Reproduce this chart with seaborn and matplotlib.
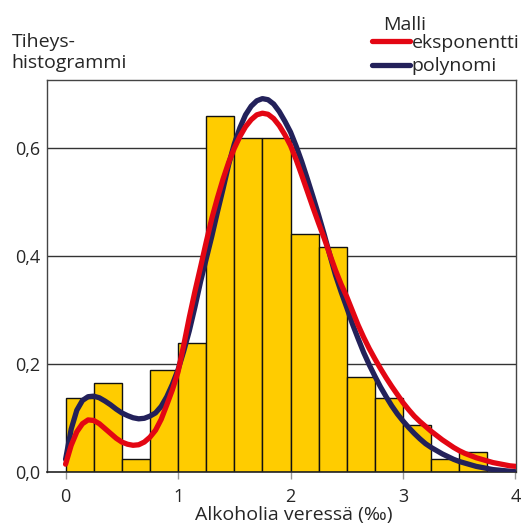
import matplotlib
matplotlib.use("Agg")
import matplotlib.pyplot as plt
import seaborn as sns

# histogram bins (width 0.25) and density heights
bin_edges = [0.0, 0.25, 0.5, 0.75, 1.0, 1.25, 1.5, 1.75, 2.0, 2.25, 2.5,
             2.75, 3.0, 3.25, 3.5, 3.75, 4.0]
density = [0.138, 0.165, 0.024, 0.190, 0.240, 0.660, 0.620, 0.620, 0.442,
           0.417, 0.176, 0.138, 0.088, 0.024, 0.037, 0.0]

# fitted model curves, read every 0.05
curve_x = [round(0.05 * i, 2) for i in range(81)]
expo_y = [0.015, 0.050, 0.075, 0.090, 0.097, 0.096, 0.090, 0.081, 0.072, 0.063,
          0.056, 0.052, 0.050, 0.051, 0.056, 0.065, 0.078, 0.098, 0.125, 0.153,
          0.186, 0.235, 0.287, 0.335, 0.380, 0.426, 0.470, 0.508, 0.543, 0.574,
          0.600, 0.622, 0.640, 0.653, 0.662, 0.665, 0.663, 0.655, 0.642, 0.625,
          0.605, 0.579, 0.550, 0.520, 0.490, 0.461, 0.433, 0.403, 0.374, 0.348,
          0.325, 0.299, 0.273, 0.250, 0.229, 0.210, 0.192, 0.175, 0.159, 0.144,
          0.129, 0.116, 0.104, 0.094, 0.085, 0.076, 0.068, 0.060, 0.053, 0.046,
          0.040, 0.035, 0.031, 0.027, 0.024, 0.021, 0.018, 0.016, 0.014, 0.012,
          0.011]
poly_y = [0.024, 0.080, 0.115, 0.133, 0.140, 0.141, 0.138, 0.132, 0.125, 0.117,
          0.110, 0.105, 0.101, 0.099, 0.100, 0.104, 0.110, 0.122, 0.140, 0.163,
          0.190, 0.224, 0.262, 0.306, 0.353, 0.395, 0.437, 0.482, 0.525, 0.570,
          0.608, 0.638, 0.662, 0.678, 0.688, 0.692, 0.690, 0.682, 0.668, 0.650,
          0.630, 0.604, 0.575, 0.543, 0.510, 0.476, 0.440, 0.402, 0.365, 0.334,
          0.305, 0.275, 0.248, 0.222, 0.199, 0.178, 0.158, 0.140, 0.123, 0.108,
          0.095, 0.083, 0.072, 0.062, 0.053, 0.046, 0.040, 0.034, 0.029, 0.024,
          0.020, 0.017, 0.014, 0.011, 0.009, 0.007, 0.005, 0.004, 0.003, 0.002,
          0.001]

y_ticks = [0.0, 0.2, 0.4, 0.6]
y_ticklabels = ["0,0", "0,2", "0,4", "0,6"]
x_ticks = [0, 1, 2, 3, 4]

sns.set_theme(style="white")
plt.rcParams['font.family'] = ['Open Sans', 'DejaVu Sans']

fig = plt.figure(figsize=(5.30, 5.28), dpi=100)
ax = fig.add_axes([0.0887, 0.1055, 0.885, 0.743])

for yv in y_ticks[1:]:
    ax.axhline(yv, color="#333333", lw=1.0, zorder=0)

centers = [(a + b) / 2 for a, b in zip(bin_edges[:-1], bin_edges[1:])]
sns.histplot(x=centers, weights=density, bins=bin_edges, ax=ax,
             color="#FFCC00", alpha=1, edgecolor="#111111", linewidth=1.0,
             zorder=2)

sns.lineplot(x=curve_x, y=poly_y, ax=ax, color="#23215A", lw=3.8,
             label="polynomi", zorder=3, solid_joinstyle="round")
sns.lineplot(x=curve_x, y=expo_y, ax=ax, color="#E30613", lw=3.8,
             label="eksponentti", zorder=4, solid_joinstyle="round")

ax.set_xlim(-0.165, 4.005)
ax.set_ylim(0, 0.7265)
ax.set_xticks(x_ticks)
ax.set_xticklabels([str(v) for v in x_ticks])
ax.set_yticks(y_ticks)
ax.set_yticklabels(y_ticklabels)
ax.tick_params(axis="x", length=5, width=1, color="#999999", pad=6,
               labelsize=13, direction="out", bottom=True)
ax.tick_params(axis="y", length=0, pad=5, labelsize=13)
ax.set_xlabel("")
ax.set_ylabel("")

for side in ["left", "top", "right"]:
    ax.spines[side].set_color("#444444")
    ax.spines[side].set_linewidth(1.0)
ax.spines["bottom"].set_color("#222222")
ax.spines["bottom"].set_linewidth(1.2)

handles, labels = ax.get_legend_handles_labels()
order = [labels.index("eksponentti"), labels.index("polynomi")]
ax.legend([handles[i] for i in order], [labels[i] for i in order],
          loc="upper left", bbox_to_anchor=(372 / 530, 1 - 34 / 528),
          bbox_transform=fig.transFigure, frameon=False, fontsize=14,
          borderpad=0, borderaxespad=0, handlelength=1.95,
          handletextpad=0.1, labelspacing=0.28)

fig.text(383 / 530, 1 - 30 / 528, "Malli", fontsize=14, ha="left",
         va="baseline")
fig.text(0.022, 0.938, "Tiheys-\nhistogrammi", fontsize=14, va="top",
         ha="left", linespacing=1.2)
fig.text(294 / 530, 1 - 515 / 528, "Alkoholia veressä (‰)", fontsize=14,
         ha="center", va="center")

fig.savefig("out.png", dpi=100)
